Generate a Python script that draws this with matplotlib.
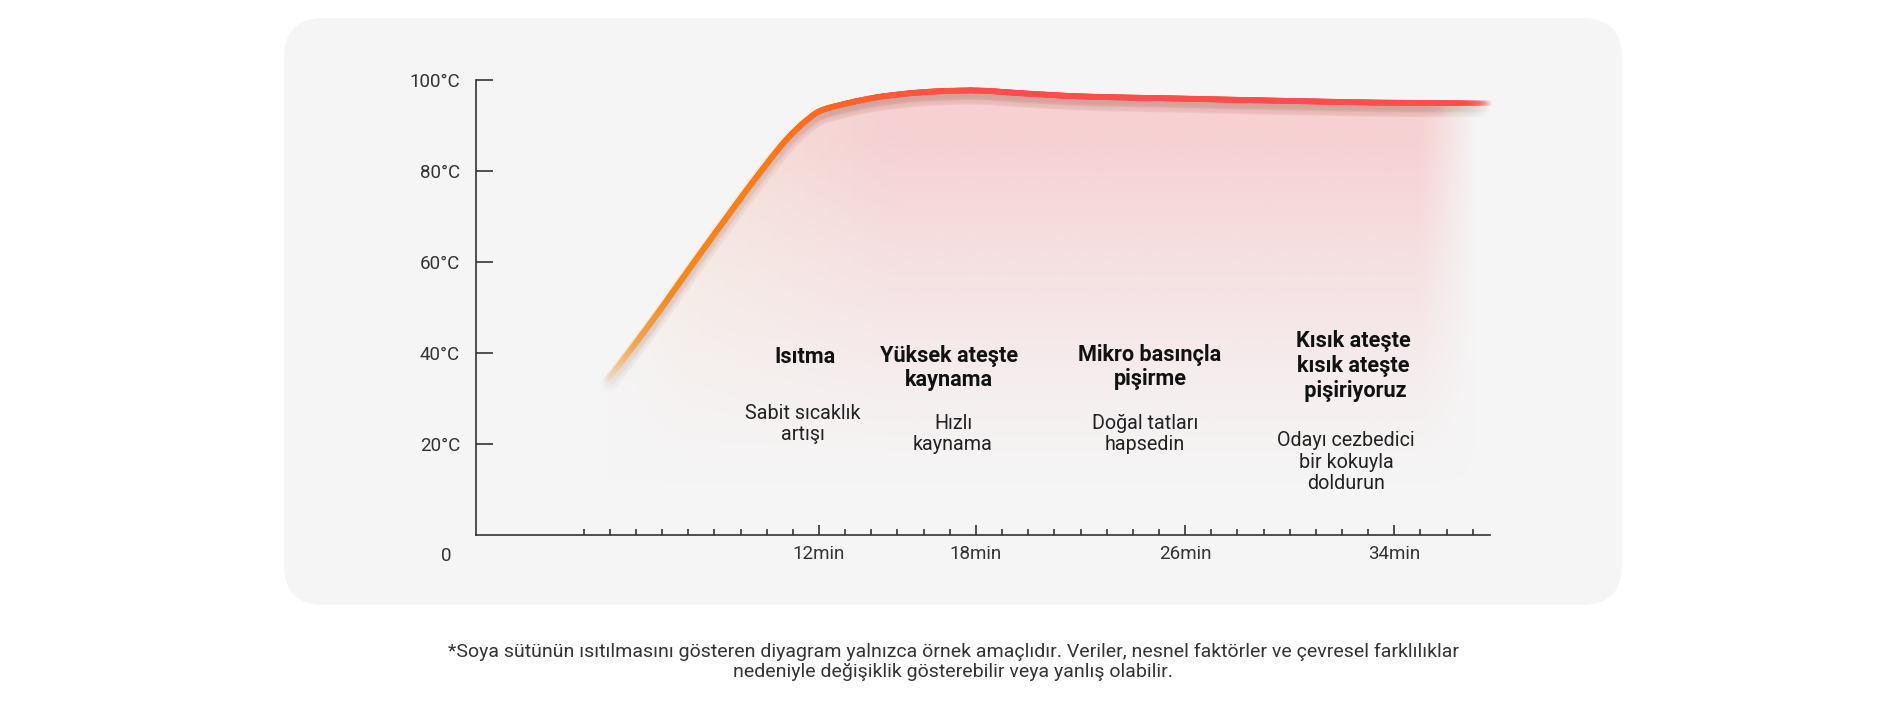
import numpy as np
import matplotlib
matplotlib.use('Agg')
import matplotlib.pyplot as plt
from matplotlib.patches import FancyBboxPatch, Polygon
from matplotlib.collections import LineCollection
from matplotlib.colors import to_rgba
from matplotlib.transforms import offset_copy

# ---------------- data ----------------
time_min = [3.9, 4.5, 5.8, 7.1, 8.4, 9.6, 10.9, 11.6, 12.0, 12.8, 14.7, 16.5, 17.8,
            20.0, 22.0, 26.0, 30.0, 34.0, 37.7]
temp_c = [34.1, 38.5, 48.5, 59.0, 69.3, 78.6, 87.8, 91.5, 93.1, 94.5, 96.6, 97.5, 97.7,
          97.0, 96.4, 95.9, 95.4, 95.0, 94.9]

y_ticks = [20, 40, 60, 80, 100]
y_tick_labels = ['20°C', '40°C', '60°C', '80°C', '100°C']
x_major = [12, 18, 26, 34]
x_major_labels = ['12min', '18min', '26min', '34min']
x_minor = [m for m in range(3, 38) if m not in x_major]
origin_label = '0'

phase_titles = ['Isıtma', 'Yüksek ateşte\nkaynama', 'Mikro basınçla\npişirme',
                'Kısık ateşte\nkısık ateşte\n pişiriyoruz']
phase_descs = ['Sabit sıcaklık\nartışı', 'Hızlı\nkaynama', 'Doğal tatları\nhapsedin',
               'Odayı cezbedici\nbir kokuyla\ndoldurun']
footnote = ('*Soya sütünün ısıtılmasını gösteren diyagram yalnızca örnek amaçlıdır. '
            'Veriler, nesnel faktörler ve çevresel farklılıklar\n'
            'nedeniyle değişiklik gösterebilir veya yanlış olabilir.')

# ---------------- layout / style ----------------
plt.rcParams['font.family'] = ['Roboto', 'DejaVu Sans']
W, H = 1885, 727
fig = plt.figure(figsize=(W / 100, H / 100), dpi=100, facecolor='white')


def fx(px):
    return px / W


def fy(py):
    return 1 - py / H


# background rounded panel
bg = fig.add_axes([0, 0, 1, 1])
bg.set_xlim(0, W)
bg.set_ylim(H, 0)
bg.axis('off')
bg.add_patch(FancyBboxPatch((284, 18), 1622 - 284, 605 - 18,
                            boxstyle='round,pad=0,rounding_size=40',
                            fc='#f5f5f5', ec='none'))

ax = fig.add_axes([fx(476), fy(535), (1490 - 476) / W, (535 - 80) / H])
ax.set_facecolor('none')
ax.set_xlim(-1.12, 37.66)
ax.set_ylim(0, 100)
for s in ['top', 'right']:
    ax.spines[s].set_visible(False)
for s in ['left', 'bottom']:
    ax.spines[s].set_color('#333333')
    ax.spines[s].set_linewidth(1.2)

ax.set_yticks(y_ticks)
ax.set_yticklabels(y_tick_labels)
ax.tick_params(axis='y', direction='in', length=12, width=1.2, color='#333333',
               labelsize=13.5, labelcolor='#333333', pad=11.5)
ax.set_xticks(x_major)
ax.set_xticklabels(x_major_labels)
ax.set_xticks(x_minor, minor=True)
ax.tick_params(axis='x', which='major', direction='in', length=7, width=1.2,
               color='#333333', labelsize=13.5, labelcolor='#333333', pad=7)
ax.tick_params(axis='x', which='minor', direction='in', length=4, width=1.2,
               color='#333333')
fig.text(fx(446), fy(556), origin_label, ha='center', va='center',
         fontsize=13.5, color='#333333')

# ---------------- smooth rendering path through the data points ----------------
t = np.array(time_min, dtype=float)
v = np.array(temp_c, dtype=float)


def pchip_eval(x, y, xn):
    h = np.diff(x)
    delta = np.diff(y) / h
    n = len(x)
    d = np.zeros(n)
    d[0], d[-1] = delta[0], delta[-1]
    for k in range(1, n - 1):
        if delta[k - 1] * delta[k] <= 0:
            d[k] = 0.0
        else:
            w1 = 2 * h[k] + h[k - 1]
            w2 = h[k] + 2 * h[k - 1]
            d[k] = (w1 + w2) / (w1 / delta[k - 1] + w2 / delta[k])
    idx = np.clip(np.searchsorted(x, xn) - 1, 0, n - 2)
    hh = h[idx]
    s = (xn - x[idx]) / hh
    h00 = 2 * s ** 3 - 3 * s ** 2 + 1
    h10 = s ** 3 - 2 * s ** 2 + s
    h01 = -2 * s ** 3 + 3 * s ** 2
    h11 = s ** 3 - s ** 2
    return h00 * y[idx] + h10 * hh * d[idx] + h01 * y[idx + 1] + h11 * hh * d[idx + 1]


dense_t = np.linspace(t[0], t[-1], 800)
dense_v = pchip_eval(t, v, dense_t)

# ---------------- gradient fill under curve ----------------
nx, ny = 700, 350
xs = np.linspace(t[0], t[-1], nx)
ys = np.linspace(0, 100, ny)
X, Y = np.meshgrid(xs, ys)
peach = np.array(to_rgba('#f5e2da'))
pink = np.array(to_rgba('#f7d0d2'))
mix = np.clip((X - 7.0) / 8.0, 0, 1)[..., None]
img = peach * (1 - mix) + pink * mix
a_v = np.clip((Y - 10) / 78.0, 0, 1) ** 1.3
a_h = np.clip((37.2 - X) / 2.2, 0, 1) * np.clip((X - t[0]) / 3.0, 0.35, 1)
img[..., 3] = a_v * a_h
im = ax.imshow(img, origin='lower', extent=(t[0], t[-1], 0, 100), aspect='auto',
               interpolation='bilinear', zorder=1)
poly_pts = [(t[0], 0)] + list(zip(dense_t, dense_v)) + [(t[-1], 0)]
clip_poly = Polygon(poly_pts, closed=True, transform=ax.transData, fc='none', ec='none')
ax.add_patch(clip_poly)
im.set_clip_path(clip_poly)

# ---------------- gradient line ----------------
pts = np.column_stack([dense_t, dense_v]).reshape(-1, 1, 2)
segs = np.concatenate([pts[:-1], pts[1:]], axis=1)
mid = (dense_t[:-1] + dense_t[1:]) / 2

stop_x = [3.9, 5.0, 6.5, 10.0, 12.0, 15.0, 18.0, 37.7]
stop_c = ['#f2dcbc', '#f2a650', '#f5891a', '#ff7a12', '#ff6a1e', '#ff5a3a', '#ff4c4c', '#ff4c4c']
stop_rgb = np.array([to_rgba(c) for c in stop_c])
cols = np.zeros((len(mid), 4))
for k in range(3):
    cols[:, k] = np.interp(mid, stop_x, stop_rgb[:, k])
alpha = np.interp(mid, [3.9, 5.2, 35.6, 37.7], [0.25, 1.0, 1.0, 0.0])
cols[:, 3] = alpha

for lw, a, off in [(12, 0.012, -6), (8, 0.018, -4)]:
    shadow_cols = np.zeros_like(cols)
    shadow_cols[:, :3] = to_rgba('#a86a5a')[:3]
    shadow_cols[:, 3] = alpha * a
    shadow = LineCollection(segs, colors=shadow_cols, linewidths=lw, capstyle='round',
                            transform=offset_copy(ax.transData, fig, x=0, y=off, units='dots'),
                            zorder=2)
    ax.add_collection(shadow)
lc = LineCollection(segs, colors=cols, linewidths=4.2, capstyle='round', zorder=3)
lc.set_clip_on(False)
ax.add_collection(lc)

# ---------------- phase annotations ----------------
title_pos = [(805, 357), (949, 368), (1150, 367), (1353, 366)]
desc_pos = [(803, 424), (953, 434), (1145, 434), (1346, 462)]
for txt, (px, py) in zip(phase_titles, title_pos):
    fig.text(fx(px), fy(py), txt, ha='center', va='center', fontsize=15.6,
             fontweight='bold', color='#111111', linespacing=1.15, multialignment='center')
for txt, (px, py) in zip(phase_descs, desc_pos):
    fig.text(fx(px), fy(py), txt, ha='center', va='center', fontsize=14.2,
             color='#222222', linespacing=1.15, multialignment='center')

fig.text(fx(953), fy(662), footnote, ha='center', va='center', fontsize=14,
         color='#333333', linespacing=1.15, multialignment='center')

fig.savefig('out.png', dpi=100, facecolor='white')
